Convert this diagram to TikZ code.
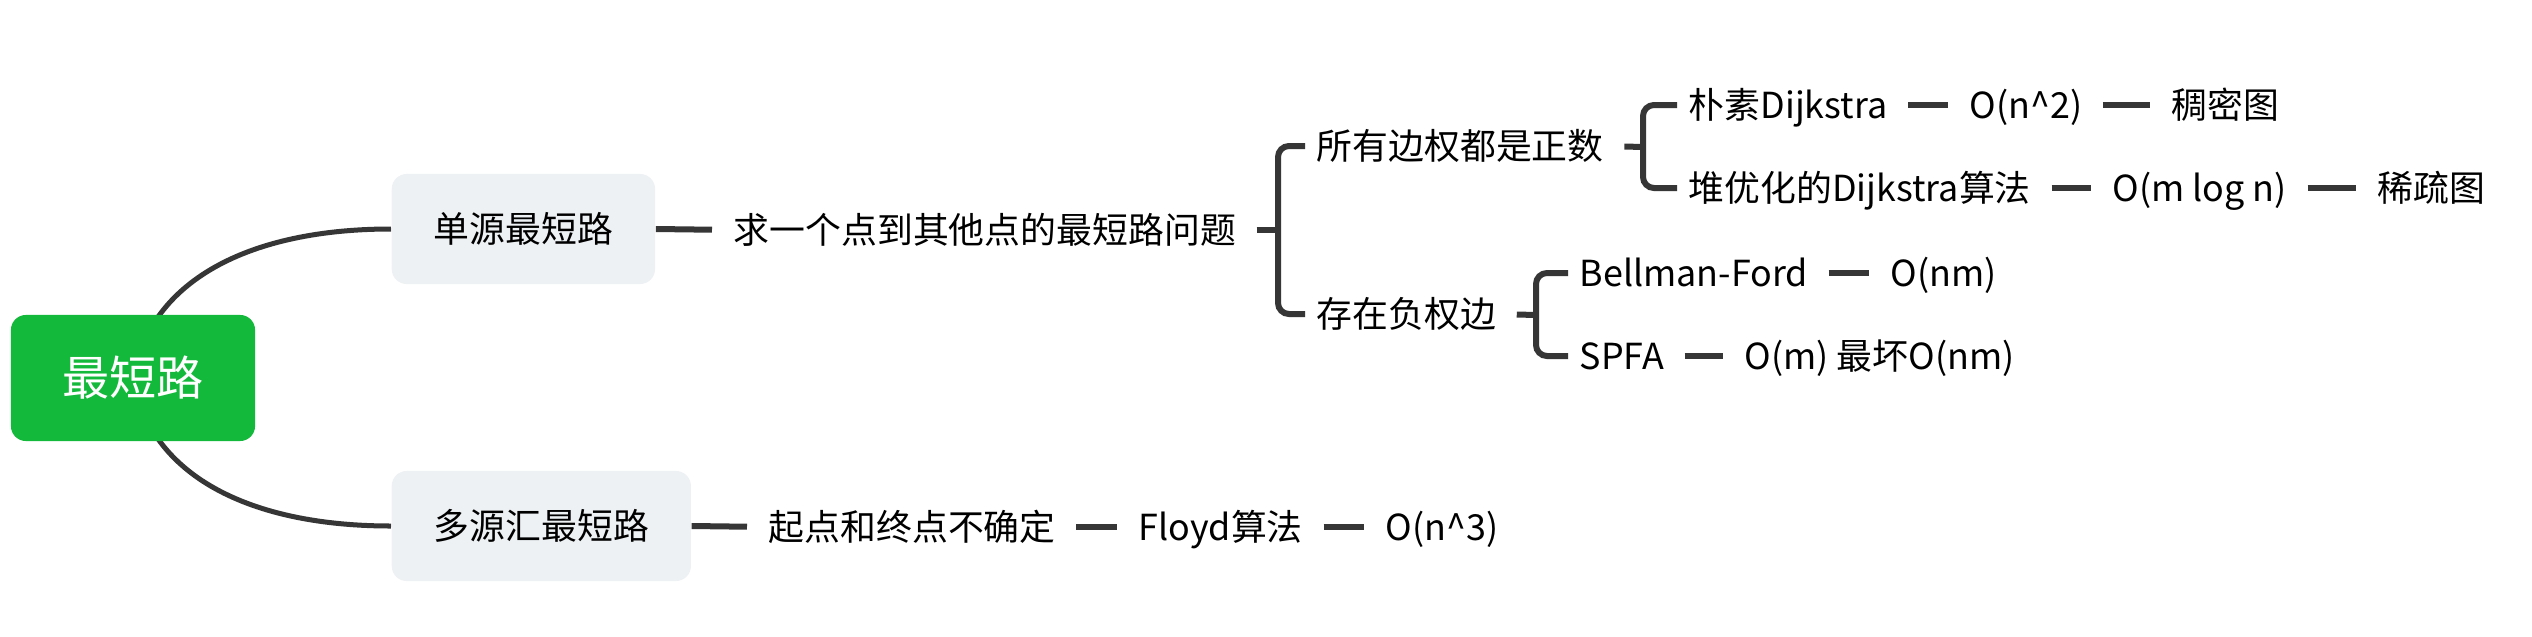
\documentclass[tikz,border=0pt]{standalone}
\usepackage{fontspec}
\setmainfont{Noto Sans CJK SC}
\usetikzlibrary{backgrounds}
\definecolor{rootgreen}{HTML}{13B93A}
\definecolor{boxgray}{HTML}{EEF1F4}
\definecolor{linegray}{HTML}{363636}
\begin{document}
\begin{tikzpicture}[x=0.01cm,y=-0.01cm,
  txt/.style={inner sep=0pt, anchor=west, text=black,
    font=\fontsize{10.2pt}{12pt}\selectfont, text height=0.29cm, text depth=0.02cm},
  topic/.style={txt, fill=boxgray, rounded corners=0.15cm, inner xsep=0.42cm,
    minimum height=1.1cm},
  rootbox/.style={fill=rootgreen, rounded corners=0.15cm, text=white,
    font=\fontsize{13.4pt}{16pt}\selectfont, minimum width=2.44cm, minimum height=1.26cm,
    inner sep=0pt},
  conn/.style={draw=linegray, line width=0.06cm},
  link/.style={conn, shorten <=0.2cm, shorten >=0.21cm},
  stub/.style={conn, shorten <=0.2cm},
  brace/.style={conn, rounded corners=0.11cm, shorten <=0.11cm, shorten >=0.11cm}]
\useasboundingbox (0,0) rectangle (2532,636);
\begin{scope}[on background layer]
  \fill[white] (0,0) rectangle (2532,636);
\end{scope}

% root and main topics
\node[rootbox] (root) at (133,378) {最短路};
\node[topic] (single) at (391,229) {单源最短路};
\node[topic] (multi) at (391,526) {多源汇最短路};

% single source branch
\node[txt] (q) at (733,230) {求一个点到其他点的最短路问题};
\node[txt] (pos) at (1316,146) {所有边权都是正数};
\node[txt] (neg) at (1316,314) {存在负权边};
\node[txt] (naive) at (1688,105) {朴素Dijkstra};
\node[txt] (n2) at (1969,105) {O(n\textasciicircum 2)};
\node[txt] (dense) at (2171,105) {稠密图};
\node[txt] (heap) at (1688,188) {堆优化的Dijkstra算法};
\node[txt] (mlogn) at (2112,188) {O(m log n)};
\node[txt] (sparse) at (2377,188) {稀疏图};
\node[txt] (bf) at (1579,273) {Bellman-Ford};
\node[txt] (nm) at (1890,273) {O(nm)};
\node[txt] (spfa) at (1579,356) {SPFA};
\node[txt] (spfac) at (1744,356) {O(m) 最坏O(nm)};

% multi source branch
\node[txt] (st) at (768,527) {起点和终点不确定};
\node[txt] (floyd) at (1138,527) {Floyd算法};
\node[txt] (n3) at (1385,527) {O(n\textasciicircum 3)};

% bracket joints
\coordinate (b1) at (1278,230);
\coordinate (b2) at (1643,147);
\coordinate (b3) at (1536,315);

% curves from root
\begin{scope}[on background layer]
  \draw[conn, line width=0.05cm] (root.center) .. controls (150,280) and (250,229) .. (single.west);
  \draw[conn, line width=0.05cm] (root.center) .. controls (150,476) and (250,526) .. (multi.west);
\end{scope}

% links
\draw[conn, shorten >=0.21cm] (single.east) -- (q.west);
\draw[conn, shorten >=0.21cm] (multi.east) -- (st.west);
\draw[link] (st.east) -- (floyd.west);
\draw[link] (floyd.east) -- (n3.west);
\draw[link] (naive.east) -- (n2.west);
\draw[link] (n2.east) -- (dense.west);
\draw[link] (heap.east) -- (mlogn.west);
\draw[link] (mlogn.east) -- (sparse.west);
\draw[link] (bf.east) -- (nm.west);
\draw[link] (spfa.east) -- (spfac.west);

% brackets
\draw[stub] (q.east) -- (b1);
\draw[brace] (pos.west) -- (pos.west -| b1) -- (neg.west -| b1) -- (neg.west);
\draw[stub] (pos.east) -- (b2);
\draw[brace] (naive.west) -- (naive.west -| b2) -- (heap.west -| b2) -- (heap.west);
\draw[stub] (neg.east) -- (b3);
\draw[brace] (bf.west) -- (bf.west -| b3) -- (spfa.west -| b3) -- (spfa.west);
\end{tikzpicture}
\end{document}
